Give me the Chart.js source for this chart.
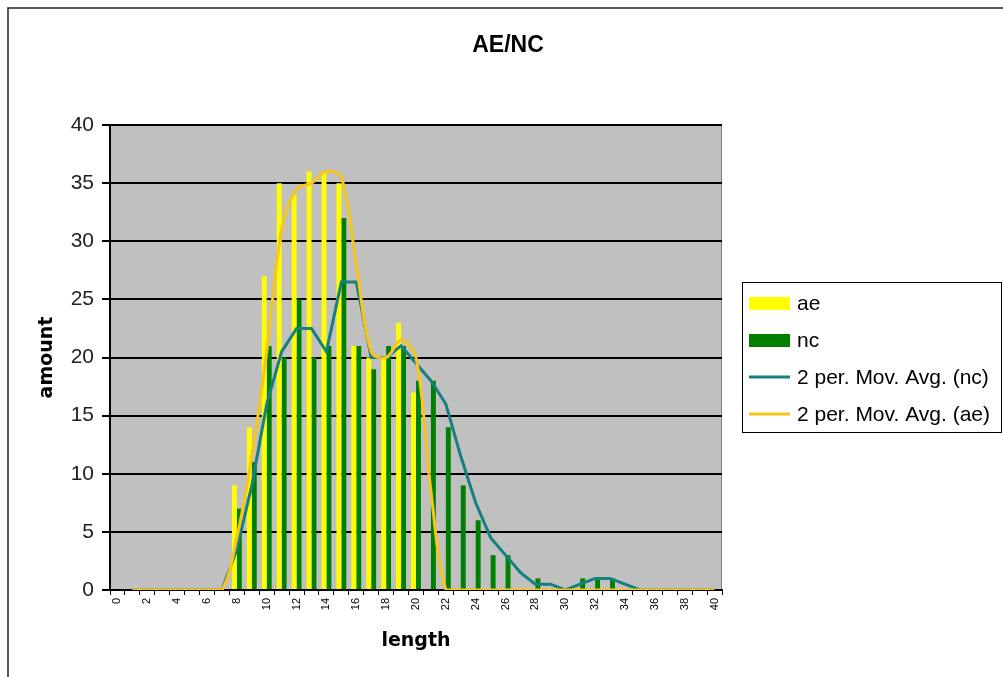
<!DOCTYPE html>
<html>
<head>
<meta charset="utf-8">
<title>AE/NC</title>
<script src="https://cdn.jsdelivr.net/npm/chart.js@4.4.1/dist/chart.umd.min.js"></script>
<style>
  body { margin: 0; background: #fff; }
  canvas { display: block; }
</style>
</head>
<body>
<canvas id="chart" width="1003" height="677"></canvas>
<script>
// lengths 0..40
var lengths = ['0','1','2','3','4','5','6','7','8','9','10','11','12','13','14','15','16','17','18','19','20',
               '21','22','23','24','25','26','27','28','29','30','31','32','33','34','35','36','37','38','39','40'];

var ae = [0,0,0,0,0,0,0,0,9,14,27,35,34,36,36,35,21,20,20,23,17,
          0,0,0,0,0,0,0,0,0,0,0,0,0,0,0,0,0,0,0,0];
var nc = [0,0,0,0,0,0,0,0,7,11,21,20,25,20,21,32,21,19,21,21,18,
          18,14,9,6,3,3,0,1,0,0,1,1,1,0,0,0,0,0,0,0];

// 2 period moving averages
var aeAvg = [null,0,0,0,0,0,0,0,4.5,11.5,20.5,31,34.5,35,36,35.5,28,20.5,20,21.5,20,
             8.5,0,0,0,0,0,0,0,0,0,0,0,0,0,0,0,0,0,0,0];
var ncAvg = [null,0,0,0,0,0,0,0,3.5,9,16,20.5,22.5,22.5,20.5,26.5,26.5,20,20,21,19.5,
             18,16,11.5,7.5,4.5,3,1.5,0.5,0.5,0,0.5,1,1,0.5,0,0,0,0,0,0];

var yTicks = [0,5,10,15,20,25,30,35,40];

var frame = {
  id: 'frame',
  beforeDraw: function(chart) {
    var c = chart.ctx, a = chart.chartArea;
    c.save();
    c.strokeStyle = '#222';
    c.lineWidth = 1.5;
    c.strokeRect(8, 8, 1020, 700);
    c.fillStyle = '#c0c0c0';
    c.fillRect(a.left, a.top, a.right - a.left, a.bottom - a.top);
    c.strokeStyle = '#808080';
    c.lineWidth = 1;
    c.beginPath();
    c.moveTo(a.left, a.top + 0.5);
    c.lineTo(a.right - 0.5, a.top + 0.5);
    c.lineTo(a.right - 0.5, a.bottom);
    c.stroke();
    c.restore();
  },
  afterDraw: function(chart) {
    var c = chart.ctx;
    c.save();
    c.fillStyle = '#000';
    c.font = 'bold 23px "Liberation Sans", Arial, sans-serif';
    c.textAlign = 'center';
    c.textBaseline = 'middle';
    c.fillText('AE/NC', 508, 46);

    // legend
    var bx = 742, by = 282, bw = 259, bh = 150;
    c.fillStyle = '#fff';
    c.fillRect(bx, by, bw, bh);
    c.strokeStyle = '#000';
    c.lineWidth = 1;
    c.strokeRect(bx + 0.5, by + 0.5, bw, bh);
    var order = [0, 1, 2, 3];
    var ds = chart.data.datasets;
    c.font = '21px "Liberation Sans", Arial, sans-serif';
    c.textAlign = 'left';
    order.forEach(function(i, row) {
      var d = ds[i];
      var y = by + 21 + row * 37;
      if (d.type === 'line') {
        c.strokeStyle = d.borderColor;
        c.lineWidth = 3;
        c.beginPath();
        c.moveTo(bx + 7, y);
        c.lineTo(bx + 48, y);
        c.stroke();
      } else {
        c.fillStyle = d.backgroundColor;
        c.fillRect(bx + 7, y - 6, 41, 13);
      }
      c.fillStyle = '#000';
      c.fillText(d.label, bx + 55, y + 1);
    });
    c.restore();
  }
};

new Chart(document.getElementById('chart'), {
  data: {
    labels: lengths,
    datasets: [
      { type: 'bar', label: 'ae', data: ae, backgroundColor: '#ffff00', order: 2,
        categoryPercentage: 0.66, barPercentage: 1 },
      { type: 'bar', label: 'nc', data: nc, backgroundColor: '#008000', order: 3,
        categoryPercentage: 0.66, barPercentage: 1 },
      { type: 'line', label: '2 per. Mov. Avg. (nc)', data: ncAvg, borderColor: '#15807f',
        borderWidth: 3, pointRadius: 0, tension: 0, order: 1 },
      { type: 'line', label: '2 per. Mov. Avg. (ae)', data: aeAvg, borderColor: '#f7c51c',
        borderWidth: 3, pointRadius: 0, tension: 0.35, order: 0 }
    ]
  },
  options: {
    responsive: false,
    animation: false,
    layout: { padding: { left: 0, right: 281, top: 125, bottom: 0 } },
    plugins: {
      legend: { display: false },
      tooltip: { enabled: false }
    },
    scales: {
      x: {
        offset: true,
        afterFit: function(s) { s.height = 87; },
        grid: { offset: true, drawOnChartArea: false, drawTicks: true, tickLength: 5, color: '#000', lineWidth: 1 },
        border: { display: true, color: '#000', width: 2 },
        ticks: {
          autoSkip: false, minRotation: 90, maxRotation: 90, padding: 3,
          color: '#000',
          font: { family: '"Liberation Sans", Arial, sans-serif', size: 11 },
          callback: function(v, i) { return i % 2 === 0 ? lengths[i] : ''; }
        },
        title: {
          display: true, text: 'length', color: '#000',
          font: { family: '"DejaVu Sans", sans-serif', size: 19, weight: 'bold' },
          padding: { top: 0, bottom: 25 }
        }
      },
      y: {
        min: 0, max: 40,
        afterFit: function(s) { s.width = 110; },
        afterBuildTicks: function(s) { s.ticks = yTicks.map(function(v) { return { value: v }; }); },
        grid: { color: '#000', lineWidth: 2, tickLength: 8 },
        border: { display: true, color: '#000', width: 2 },
        ticks: {
          padding: 8, color: '#222',
          font: { family: '"Liberation Sans", Arial, sans-serif', size: 21 }
        },
        title: {
          display: true, text: 'amount', color: '#000',
          font: { family: '"DejaVu Sans", sans-serif', size: 19, weight: 'bold' },
          padding: { top: 36, bottom: 0 }
        }
      }
    }
  },
  plugins: [frame]
});
</script>
</body>
</html>
